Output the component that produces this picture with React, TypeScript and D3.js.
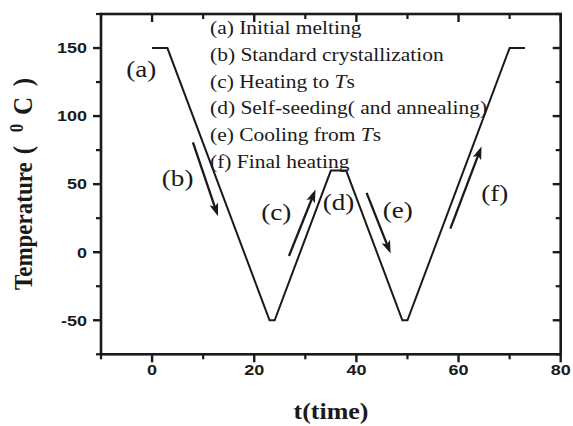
import React from "react";
import * as d3 from "d3";

// Temperature program (time, temperature)
const times = [0, 3, 23, 24, 35, 38, 49, 50, 70, 73];
const temps = [150, 150, -50, -50, 60, 60, -50, -50, 150, 150];

// Arrows (data coordinates)
const arrowTailT = [8, 26.8, 42, 58.4];
const arrowTailY = [80.7, -2.8, 43.6, 17.3];
const arrowTipT = [12.9, 32, 46.7, 64.5];
const arrowTipY = [26.5, 46, -1, 77.7];

// Step labels (data coordinates)
const stepLabels = ["(a)", "(b)", "(c)", "(d)", "(e)", "(f)"];
const stepT = [-2.1, 5.0, 24.3, 36.5, 48.1, 67.1];
const stepY = [128.8, 49, 23.4, 30.7, 24.8, 37.3];

// Legend lines
const legendPrefix = ["(a) ", "(b) ", "(c) ", "(d) ", "(e) ", "(f)  "];
const legendText = ["Initial melting", "Standard crystallization", "Heating to ", "Self-seeding( and annealing)", "Cooling from ", "Final heating"];
const legendItalic = ["", "", "T", "", "T", ""];
const legendTail = ["", "", "s", "", "s", ""];

const xTicks = [0, 20, 40, 60, 80];
const xMinor = [-10, 10, 30, 50, 70];
const yTicks = [-50, 0, 50, 100, 150];
const yMinor = [-75, -25, 25, 75, 125, 175];

const W = 573, H = 426;
const SX = 1.13;

export default function App() {
  const x = d3.scaleLinear().domain([-10, 80]).range([101, 560.7]);
  const y = d3.scaleLinear().domain([-75, 175]).range([354.3, 14]);
  const line = d3.line<number>().x((_, i) => x(times[i])).y((_, i) => y(temps[i]));
  const pts = times.map((t, i) => i);
  const serif = "'Liberation Serif', 'Times New Roman', Times, serif";
  const sans = "'Liberation Sans', Arial, sans-serif";
  const x0 = x.range()[0], x1 = x.range()[1];
  const y0 = y.range()[0], y1 = y.range()[1];
  const ink = "#1a1a1a";

  const arrows = arrowTailT.map((_, i) => {
    const ax = x(arrowTailT[i]), ay = y(arrowTailY[i]);
    const bx = x(arrowTipT[i]), by = y(arrowTipY[i]);
    const dx = bx - ax, dy = by - ay;
    const len = Math.hypot(dx, dy);
    const ux = dx / len, uy = dy / len;
    const hl = 13, hw = 4.5;
    const baseX = bx - ux * hl, baseY = by - uy * hl;
    const px = -uy, py = ux;
    const head = `M${bx},${by}L${baseX + px * hw},${baseY + py * hw}L${bx - ux * (hl - 3)},${by - uy * (hl - 3)}L${baseX - px * hw},${baseY - py * hw}Z`;
    return (
      <g key={i}>
        <line x1={ax} y1={ay} x2={bx - ux * 8} y2={by - uy * 8} stroke={ink} strokeWidth={2.3} />
        <path d={head} fill={ink} />
      </g>
    );
  });

  const rot = (px: number, py: number) => `translate(${px},${py}) rotate(-90) scale(1,${SX})`;

  return (
    <svg width={W} height={H} style={{ position: "absolute", left: 0, top: 0, background: "#fff" }}>
      <rect width={W} height={H} fill="#fff" />
      {/* data line */}
      <path d={line(pts) || ""} fill="none" stroke={ink} strokeWidth={2} strokeLinejoin="miter" />
      {arrows}
      {/* axes frame */}
      <rect x={x0} y={y1} width={x1 - x0} height={y0 - y1} fill="none" stroke={ink} strokeWidth={2.6} />
      {/* x ticks */}
      {xTicks.map((t) => (
        <g key={"xt" + t}>
          <line x1={x(t)} x2={x(t)} y1={y0} y2={y0 + 8} stroke={ink} strokeWidth={2.4} />
          <line x1={x(t)} x2={x(t)} y1={y1} y2={y1 + 8} stroke={ink} strokeWidth={2.4} />
          <text transform={`translate(${x(t)},${375}) scale(1.2,1)`} textAnchor="middle" fontFamily={sans} fontWeight="bold" fontSize={15} fill={ink}>{t}</text>
        </g>
      ))}
      {xMinor.map((t) => (
        <g key={"xm" + t}>
          <line x1={x(t)} x2={x(t)} y1={y0} y2={y0 + 5} stroke={ink} strokeWidth={2.2} />
          <line x1={x(t)} x2={x(t)} y1={y1} y2={y1 + 5} stroke={ink} strokeWidth={2.2} />
        </g>
      ))}
      {yTicks.map((v) => (
        <g key={"yt" + v}>
          <line x1={x0 - 8} x2={x0} y1={y(v)} y2={y(v)} stroke={ink} strokeWidth={2.4} />
          <line x1={x1 - 8} x2={x1} y1={y(v)} y2={y(v)} stroke={ink} strokeWidth={2.4} />
          <text transform={`translate(${87},${y(v) + 5.3}) scale(1.2,1)`} textAnchor="end" fontFamily={sans} fontWeight="bold" fontSize={15} fill={ink}>{v}</text>
        </g>
      ))}
      {yMinor.map((v) => (
        <g key={"ym" + v}>
          <line x1={x0 - 5} x2={x0} y1={y(v)} y2={y(v)} stroke={ink} strokeWidth={2.2} />
          <line x1={x1 - 5} x2={x1} y1={y(v)} y2={y(v)} stroke={ink} strokeWidth={2.2} />
        </g>
      ))}
      {/* step labels */}
      {stepLabels.map((s, i) => (
        <text key={s} transform={`translate(${x(stepT[i])},${y(stepY[i])}) scale(${SX},1)`} textAnchor="middle" fontFamily={serif} fontSize={24} fill={ink}>{s}</text>
      ))}
      {/* legend */}
      {legendText.map((s, i) => (
        <text key={"lg" + i} transform={`translate(210,${34 + i * 26.8}) scale(${SX},1)`} fontFamily={serif} fontSize={19} fill={ink}>
          {legendPrefix[i]}{s}
          {legendItalic[i] ? <tspan fontStyle="italic">{legendItalic[i]}</tspan> : null}
          {legendTail[i]}
        </text>
      ))}
      {/* axis titles */}
      <text transform={`translate(331,419) scale(${SX},1)`} textAnchor="middle" fontFamily={serif} fontWeight="bold" fontSize={23} fill={ink}>t(time)</text>
      <text transform={rot(32, 290)} textAnchor="start" fontFamily={serif} fontWeight="bold" fontSize={23} fill={ink}>Temperature</text>
      <text transform={rot(32, 150)} textAnchor="middle" fontFamily={serif} fontWeight="bold" fontSize={25} fill={ink}>(</text>
      <text transform={rot(23, 128)} textAnchor="middle" fontFamily={serif} fontWeight="bold" fontSize={17} fill={ink}>0</text>
      <text transform={rot(32, 106)} textAnchor="middle" fontFamily={serif} fontWeight="bold" fontSize={25} fill={ink}>C</text>
      <text transform={rot(32, 82)} textAnchor="middle" fontFamily={serif} fontWeight="bold" fontSize={25} fill={ink}>)</text>
    </svg>
  );
}
